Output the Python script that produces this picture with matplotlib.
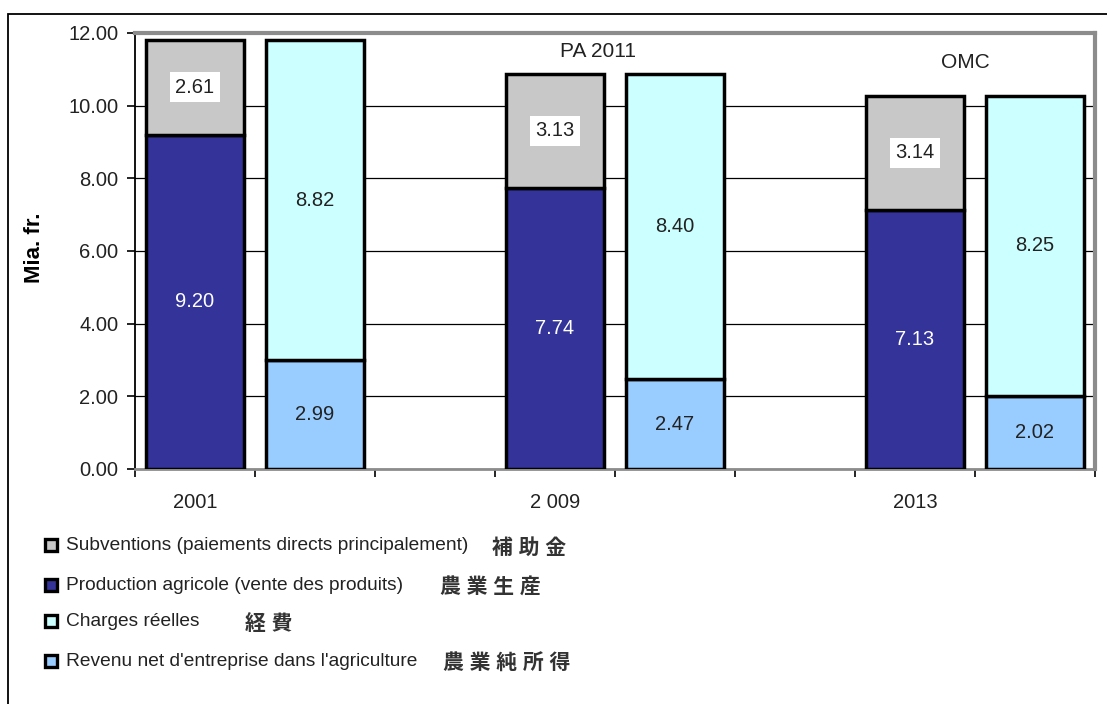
import matplotlib.pyplot as plt
from matplotlib.patches import Rectangle

plt.rcParams['font.family'] = ['Liberation Sans', 'Noto Sans CJK JP']

# données (milliards de francs)
annees = ['2001', '2 009', '2013']
production = [9.20, 7.74, 7.13]      # Production agricole
subventions = [2.61, 3.13, 3.14]     # Subventions
revenu_net = [2.99, 2.47, 2.02]      # Revenu net
charges = [8.82, 8.40, 8.25]         # Charges réelles
y_ticks = [0, 2, 4, 6, 8, 10, 12]

legende = [
    ('Subventions (paiements directs principalement)', '補 助 金', '#C8C8C8', 492),
    ('Production agricole (vente des produits)', '農 業 生 産', '#333399', 440),
    ('Charges réelles', '経 費', '#CCFFFF', 245),
    ("Revenu net d'entreprise dans l'agriculture", '農 業 純 所 得', '#99CCFF', 443),
]

c_sub, c_prod, c_chg, c_rev = '#C8C8C8', '#333399', '#CCFFFF', '#99CCFF'

W, H = 1107, 704
fig = plt.figure(figsize=(W / 100, H / 100), dpi=100)
ax = fig.add_axes([135 / W, 1 - 469 / H, (1095 - 135) / W, (469 - 33) / H])

# cadre général
fig.patches.append(Rectangle((8 / W, -0.1), 1.2, 1.1 - 14 / H, transform=fig.transFigure,
                             fill=False, edgecolor='black', linewidth=1.3, zorder=0))

# deux barres par année, une case vide entre les groupes
x_stack = [0, 3, 6]
x_chg = [1, 4, 7]
bw = 0.82
kw = dict(width=bw, edgecolor='black', linewidth=2.5, zorder=3)

ax.bar(x_stack, production, color=c_prod, **kw)
ax.bar(x_stack, subventions, bottom=production, color=c_sub, **kw)
ax.bar(x_chg, revenu_net, color=c_rev, **kw)
ax.bar(x_chg, charges, bottom=revenu_net, color=c_chg, **kw)

fs_val = 14.5
for i in range(3):
    ax.text(x_stack[i], production[i] / 2, f'{production[i]:.2f}', color='white',
            ha='center', va='center', fontsize=fs_val, zorder=4)
    ax.text(x_stack[i], production[i] + subventions[i] / 2, f'{subventions[i]:.2f}',
            ha='center', va='center', fontsize=fs_val, zorder=4, color='#222222',
            bbox=dict(facecolor='white', edgecolor='none', pad=4))
    ax.text(x_chg[i], revenu_net[i] / 2, f'{revenu_net[i]:.2f}',
            ha='center', va='center', fontsize=fs_val, color='#222222', zorder=4)
    ax.text(x_chg[i], revenu_net[i] + charges[i] / 2, f'{charges[i]:.2f}',
            ha='center', va='center', fontsize=fs_val, color='#222222', zorder=4)

ax.text(3.36, 11.48, 'PA 2011', ha='center', va='center', fontsize=15, color='#222222')
ax.text(6.42, 11.2, 'OMC', ha='center', va='center', fontsize=15, color='#222222')

ax.set_xlim(-0.5, 7.5)
ax.set_ylim(0, 12)
ax.set_yticks(y_ticks)
ax.set_yticklabels([f'{v:.2f}' for v in y_ticks], fontsize=14.5, color='#222222')
ax.yaxis.grid(True, color='black', linewidth=0.9, zorder=1)
ax.set_axisbelow(True)

ax.set_xticks([k - 0.5 for k in range(9)])
ax.set_xticklabels([])
ax.set_xticks(x_stack, minor=True)
ax.set_xticklabels(annees, minor=True, fontsize=14.5, color='#222222')
ax.tick_params(axis='x', which='minor', length=0, pad=17)
ax.tick_params(axis='x', which='major', length=6, width=1.2, direction='out')
ax.tick_params(axis='y', length=6, width=1.2, direction='out', pad=6)

ax.spines['left'].set_color('black')
ax.spines['left'].set_linewidth(1.3)
for s in ['top', 'right']:
    ax.spines[s].set_color('#8C8C8C')
    ax.spines[s].set_linewidth(3)
ax.spines['bottom'].set_color('#8C8C8C')
ax.spines['bottom'].set_linewidth(2)

fig.text(35 / W, 1 - 248 / H, 'Mia. fr.', rotation=90, fontweight='bold', fontsize=16,
         ha='center', va='center')

# légende dessinée à la main
rows_y = [545, 585, 621, 661]
for (fr, jp, col, xjp), yy in zip(legende, rows_y):
    fig.patches.append(Rectangle((45 / W, 1 - (yy + 6) / H), 12 / W, 12 / H,
                                 transform=fig.transFigure, facecolor=col,
                                 edgecolor='black', linewidth=2.4))
    fig.text(66 / W, 1 - yy / H, fr, fontsize=13.8, va='center', color='#222222')
    fig.text(xjp / W, 1 - (yy + 3) / H, jp, fontsize=15, va='center',
             fontweight='bold', color='#333333')

fig.savefig('out.png', dpi=100)
